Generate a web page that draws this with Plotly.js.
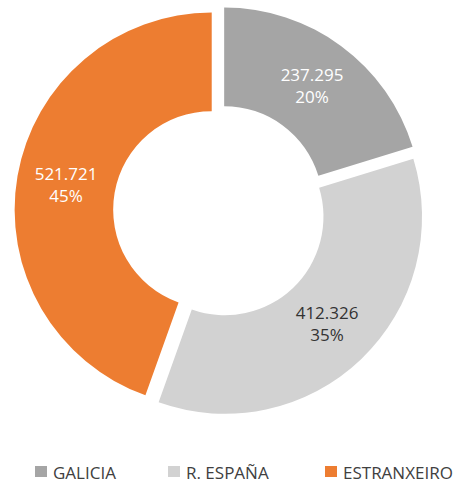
<!DOCTYPE html>
<html>
<head>
<meta charset="utf-8">
<script src="https://cdn.plot.ly/plotly-3.0.1.min.js"></script>
<style>html,body{margin:0;padding:0;background:#fff;}#chart{width:463px;height:484px;}</style>
</head>
<body>
<div id="chart"></div>
<script>
const categories = ["GALICIA", "R. ESPAÑA", "ESTRANXEIRO"];
const values = [237295, 412326, 521721];
const colors = ["#a5a5a5", "#d2d2d2", "#ed7d31"];
const textColors = ["#ffffff", "#333333", "#ffffff"];

const W = 463, H = 484;
const data = [{
  type: "pie",
  labels: categories,
  values: values,
  hole: 0.5,
  sort: false,
  direction: "clockwise",
  rotation: 0,
  pull: [0.04, 0.04, 0.04],
  marker: {colors: colors, line: {width: 0}},
  texttemplate: "%{value:,}<br>%{percent:.0%}",
  textposition: "inside",
  insidetextorientation: "horizontal",
  insidetextfont: {family: "Open Sans, sans-serif", size: 17, color: textColors},
  hoverinfo: "none",
  domain: {x: [0.0313, 0.9168], y: [0.1405, 0.9875]}
}];

// custom legend layout (pixel positions of each entry's marker)
const legendMarkerX = [35, 168, 325];
const shapes = [], annotations = [];
categories.forEach((c, i) => {
  const x0 = legendMarkerX[i];
  shapes.push({type: "rect", xref: "paper", yref: "paper",
    x0: x0 / W, x1: (x0 + 12) / W, y0: 1 - 477 / H, y1: 1 - 466 / H,
    fillcolor: colors[i], line: {width: 0}});
  annotations.push({xref: "paper", yref: "paper", x: (x0 + 16) / W, y: 1 - 472 / H,
    xanchor: "left", yanchor: "middle", showarrow: false, text: c,
    font: {family: "Open Sans, sans-serif", size: 17, color: "#404040"}});
});

const layout = {
  width: W, height: H,
  margin: {l: 0, r: 0, t: 0, b: 0},
  separators: ",.",
  paper_bgcolor: "#ffffff",
  showlegend: false,
  shapes: shapes,
  annotations: annotations,
  font: {family: "Open Sans, sans-serif"}
};

Plotly.newPlot("chart", data, layout, {displayModeBar: false, staticPlot: true});
</script>
</body>
</html>
